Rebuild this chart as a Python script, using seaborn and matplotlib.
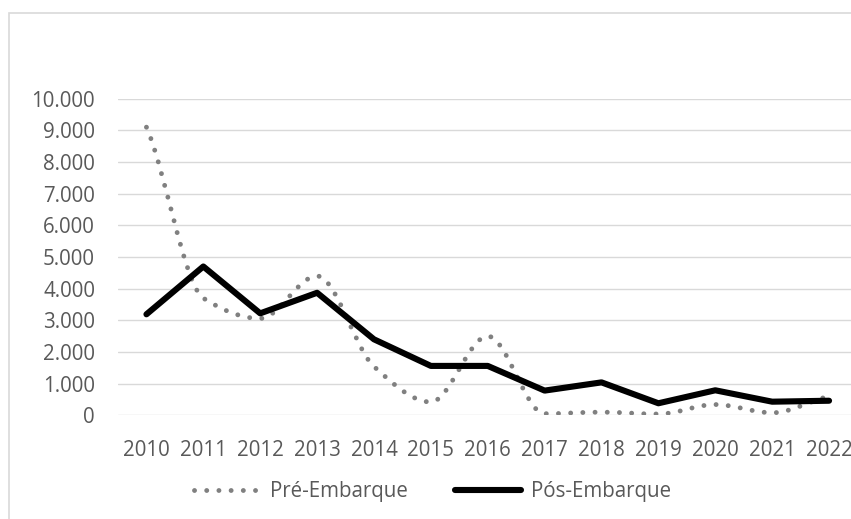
import numpy as np
import pandas as pd
import matplotlib
matplotlib.use("Agg")
import matplotlib.pyplot as plt
from matplotlib.path import Path
from matplotlib.patches import PathPatch, Rectangle
from matplotlib.lines import Line2D
import seaborn as sns

# ---- data ----
years = ["2010", "2011", "2012", "2013", "2014", "2015", "2016",
         "2017", "2018", "2019", "2020", "2021", "2022"]
pre_embarque = [9100, 3700, 3060, 4400, 1540, 420, 2500, 50, 100, 40, 340, 80, 600]
pos_embarque = [3190, 4700, 3220, 3870, 2400, 1560, 1560, 780, 1040, 380, 790, 430, 460]
y_ticks = [0, 1000, 2000, 3000, 4000, 5000, 6000, 7000, 8000, 9000, 10000]
series_names = ["Pré-Embarque", "Pós-Embarque"]

sns.set_theme(style="white")
plt.rcParams["font.family"] = ["Open Sans", "DejaVu Sans"]

W, H = 851, 519
fig = plt.figure(figsize=(W / 100, H / 100), dpi=100)
ax = fig.add_axes([118 / W, 1 - 415.3 / H, (857.5 - 118) / W, (415.3 - 98.7) / H])

idx = np.arange(len(years))
df = pd.DataFrame({"idx": idx, "pos": pos_embarque, "pre": pre_embarque})

grid_c = "#d9d9d9"
for v in y_ticks:
    ax.axhline(v, color=grid_c, lw=1.0, zorder=0)

# smoothed line (monotone cubic Bezier segments through the data) for Pré-Embarque
x = df["idx"].to_numpy(float)
y = df["pre"].to_numpy(float)
n = len(x)
d = np.diff(y) / np.diff(x)
m = np.zeros(n)
for k in range(1, n - 1):
    if d[k - 1] * d[k] > 0:
        m[k] = 2.0 / (1.0 / d[k - 1] + 1.0 / d[k])
m[0] = d[0] * 0.75
m[-1] = d[-1] * 0.75
verts = [(x[0], y[0])]
codes = [Path.MOVETO]
for i in range(n - 1):
    h = x[i + 1] - x[i]
    verts += [(x[i] + h / 3, y[i] + m[i] * h / 3),
              (x[i + 1] - h / 3, y[i + 1] - m[i + 1] * h / 3),
              (x[i + 1], y[i + 1])]
    codes += [Path.CURVE4] * 3
pre_color = "#808080"
patch = PathPatch(Path(verts, codes), facecolor="none", edgecolor=pre_color,
                  lw=3.5, linestyle=(0, (0.01, 2.5)), capstyle="round", zorder=2)
ax.add_patch(patch)

sns.lineplot(data=df, x="idx", y="pos", ax=ax, color="black", lw=4.4,
             solid_capstyle="round", solid_joinstyle="round", zorder=3, legend=False)

ax.set_xlim(-0.5, len(years) - 0.5)
ax.set_ylim(0, 10000)
ax.set_xticks(idx)
ax.set_xticklabels(years)
ax.set_yticks(y_ticks)
ax.set_yticklabels([f"{v:,.0f}".replace(",", ".") for v in y_ticks])
ax.set_xlabel("")
ax.set_ylabel("")
ax.tick_params(axis="both", length=0, labelsize=14.8, colors="#595959")
ax.tick_params(axis="y", pad=16.5)
ax.tick_params(axis="x", pad=18)
for s in ax.spines.values():
    s.set_visible(False)
ax.set_facecolor("none")

# outer chart border
fig.patches.append(Rectangle((8.5 / W, -0.1), 1.2, (H - 12.5) / H + 0.1,
                             transform=fig.transFigure, fill=False,
                             edgecolor=grid_c, lw=1.2, zorder=0))

handles = [
    Line2D([], [], color=pre_color, lw=3.5, linestyle=(0, (0.01, 2.5)),
           dash_capstyle="round"),
    Line2D([], [], color="black", lw=4.4, solid_capstyle="round"),
]
leg = fig.legend(handles, series_names, loc="center", ncol=2,
                 bbox_to_anchor=(432.5 / W, 1 - 491.7 / H), frameon=False,
                 fontsize=14.8, handlelength=3.2, handletextpad=0.5,
                 columnspacing=2.3)
for t in leg.get_texts():
    t.set_color("#595959")

fig.savefig("out.png", dpi=100)
